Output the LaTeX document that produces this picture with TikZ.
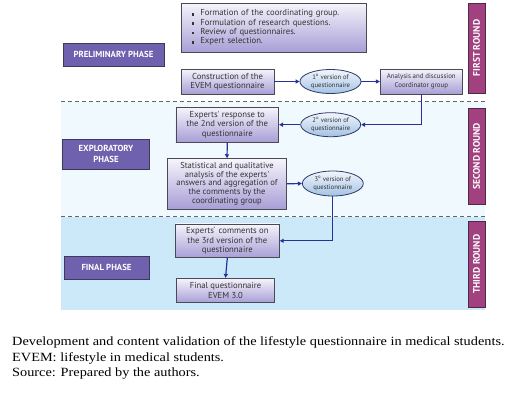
\documentclass[tikz,border=0pt]{standalone}
\usepackage{fontspec}
\setmainfont{Liberation Serif}
\newfontfamily\sansf{PT Sans}
\usetikzlibrary{arrows.meta,shapes.geometric,calc}
\definecolor{boxborder}{HTML}{4A4A55}
\definecolor{proctop}{HTML}{F6F4FB}
\definecolor{procbot}{HTML}{A89ED6}
\definecolor{elltop}{HTML}{F2F6FC}
\definecolor{ellbot}{HTML}{A3C2E4}
\definecolor{ellborder}{HTML}{2E3B66}
\definecolor{phasefill}{HTML}{6F61AE}
\definecolor{phaseborder}{HTML}{3C3A58}
\definecolor{roundfill}{HTML}{A2417F}
\definecolor{roundborder}{HTML}{4E2A44}
\definecolor{arrowc}{HTML}{2B2F9C}
\definecolor{explbg}{HTML}{F0F9FE}
\definecolor{finalbg}{HTML}{CCE9F9}
\definecolor{textc}{HTML}{333333}
\newcommand{\sqb}{\rule{2.8bp}{2.8bp}\hspace{6bp}}
\newcommand{\ordo}{\textsuperscript{o}}
\begin{document}
\begin{tikzpicture}[x=1bp,y=-1bp,
  proc/.style={draw=boxborder, line width=0.8bp, top color=proctop, bottom color=procbot,
    font=\sansf\fontsize{8.7}{9.3}\selectfont, align=center, inner sep=1bp, text=textc},
  vers/.style={ellipse, draw=ellborder, line width=0.8bp, top color=elltop, bottom color=ellbot,
    font=\sansf\fontsize{6.7}{7.6}\selectfont, align=center, inner sep=0pt, text=textc},
  phase/.style={draw=phaseborder, fill=phasefill, line width=0.8bp, text=white,
    font=\sansf\bfseries\fontsize{8.8}{11}\selectfont, align=center, inner sep=1bp},
  roundbar/.style={draw=roundborder, fill=roundfill, line width=0.8bp, text=white,
    font=\sansf\bfseries\fontsize{9.6}{10}\selectfont, rotate=90, inner sep=0pt},
  flow/.style={draw=arrowc, line width=1.2bp, -{Triangle[length=4bp,width=4bp]}},
  sepline/.style={draw=black!60, dash pattern=on 4bp off 3bp, line width=0.8bp},
  capt/.style={anchor=base west, inner sep=0pt, font=\fontsize{12.6}{14}\selectfont}
]
\useasboundingbox (0,0) rectangle (515,401);
\fill[white] (0,0) rectangle (515,401);
% backgrounds
\fill[explbg] (61,102) rectangle (485,216);
\fill[finalbg] (61,217) rectangle (485,310);
\coordinate (s1a) at (61,101.5);
\coordinate (s1b) at (485,101.5);
\coordinate (s2a) at (61,216.5);
\coordinate (s2b) at (485,216.5);
\draw[sepline] (s1a) -- (s1b);
\draw[sepline] (s2a) -- (s2b);

% first round
\node[proc, minimum width=185bp, minimum height=49bp, text width=178bp, align=left] (bul) at (273.5,27.5)
  {\hspace*{7bp}\sqb Formation of the coordinating group.\\
   \hspace*{7bp}\sqb Formulation of research questions.\\
   \hspace*{7bp}\sqb Review of questionnaires.\\
   \hspace*{7bp}\sqb Expert selection.};
\node[phase, minimum width=101bp, minimum height=23bp] (prel) at (113.5,54.5) {PRELIMINARY PHASE};
\node[proc, minimum width=93bp, minimum height=25bp] (constr) at (227.5,81.5) {Construction of the\\EVEM questionnaire};
\node[vers, minimum width=61bp, minimum height=24bp] (e1) at (330.5,81.5) {1\ordo{} version of\\questionnaire};
\node[proc, minimum width=82bp, minimum height=25bp, font=\sansf\fontsize{6.9}{8.6}\selectfont] (anal) at (421.3,81.5) {Analysis and discussion\\Coordinator group};
\node[roundbar, minimum width=90bp, minimum height=17bp] (r1) at (476.5,48) {FIRST ROUND};

% second round
\node[proc, minimum width=102.7bp, minimum height=34.7bp] (exp) at (227.3,124.7) {Experts' response to\\the 2nd version of the\\questionnaire};
\node[vers, minimum width=60bp, minimum height=24bp] (e2) at (330.7,124.7) {2\ordo{} version of\\questionnaire};
\node[phase, minimum width=86.6bp, minimum height=30bp] (expl) at (106,154) {EXPLORATORY\\PHASE};
\node[proc, minimum width=119.4bp, minimum height=50.3bp, font=\sansf\fontsize{8.6}{8.7}\selectfont] (stat) at (227,183.8) {Statistical and qualitative\\analysis of the experts'\\answers and aggregation of\\the comments by the\\coordinating group};
\node[vers, minimum width=61bp, minimum height=25bp] (e3) at (332.8,183.5) {3\ordo{} version of\\questionnaire};
\node[roundbar, minimum width=95.7bp, minimum height=17bp] (r2) at (476.5,156.2) {SECOND ROUND};

% third round
\node[proc, minimum width=104bp, minimum height=33.7bp] (comm) at (227.3,240.8) {Experts\'{} comments on\\the 3rd version of the\\questionnaire};
\node[phase, minimum width=85bp, minimum height=23bp] (fin) at (106.5,267.5) {FINAL PHASE};
\node[proc, minimum width=97.6bp, minimum height=24.4bp] (finq) at (225.5,290.5) {Final questionnaire\\EVEM 3.0};
\node[roundbar, minimum width=86.3bp, minimum height=17bp] (r3) at (476.5,264.2) {THIRD ROUND};

% connectors
\draw[flow] (constr.east) -- (e1.west);
\draw[flow] (e1.east) -- (anal.west);
\draw[flow] (anal.south) |- (e2.east);
\draw[flow] (e2.west) -- (exp.east);
\draw[flow] (exp.south) -- (stat.north);
\draw[flow] (stat.east) -- (e3.west);
\draw[flow] (e3.south) |- (comm.east);
\draw[flow] (comm.south) -- (finq.north);

% caption
\node[capt] (c1) at (12,345.7) {\scalebox{1.14}[1]{Development and content validation of the lifestyle questionnaire in medical students.}};
\node[capt] (c2) at (12,361.1) {\scalebox{1.14}[1]{EVEM: lifestyle in medical students.}};
\node[capt] (c3) at (12,376.6) {\scalebox{1.14}[1]{Source: Prepared by the authors.}};
\end{tikzpicture}
\end{document}
